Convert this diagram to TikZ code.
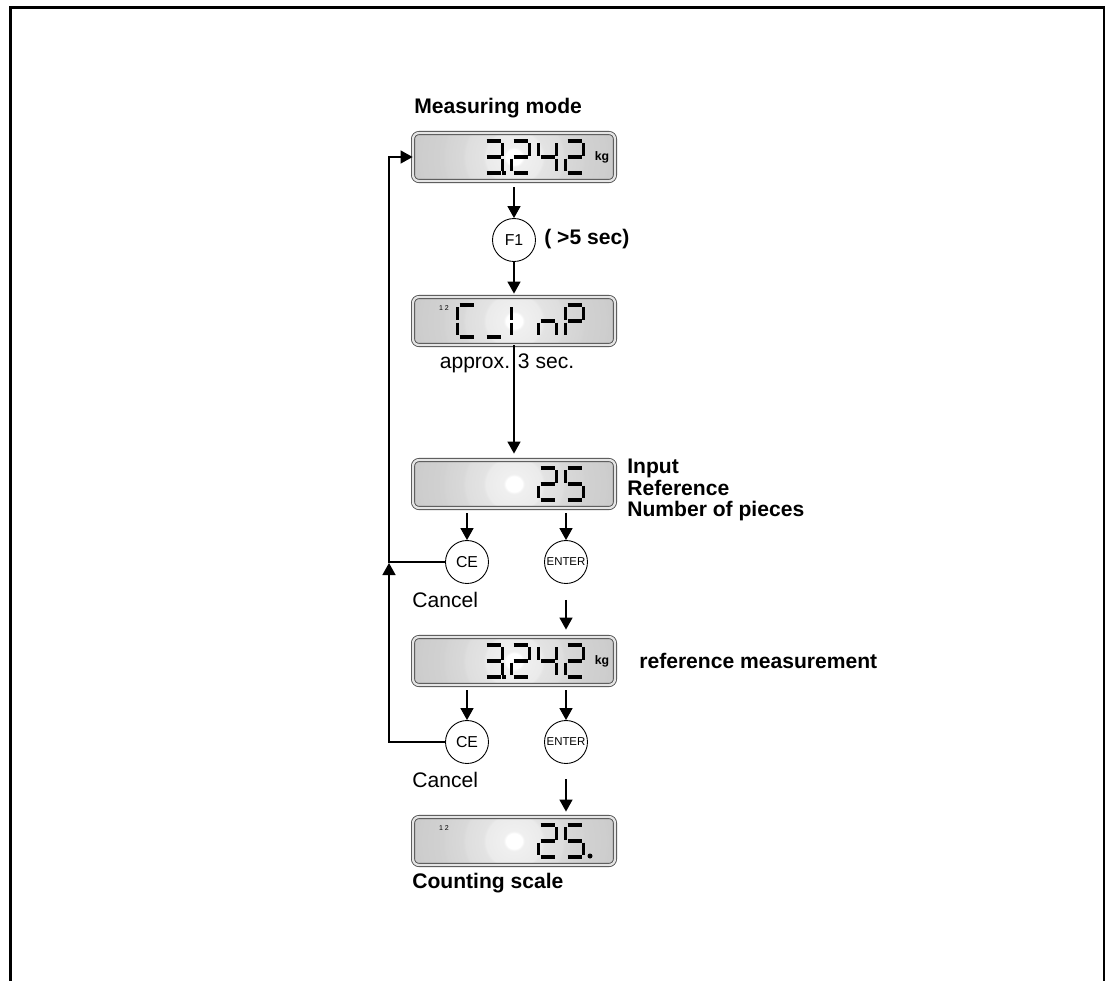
\documentclass[tikz,border=0pt]{standalone}
\usepackage{fontspec}
\setmainfont{Liberation Sans}
\usepackage{tikz}
\usetikzlibrary{arrows.meta}
\definecolor{lcdgray}{rgb}{0.8,0.8,0.8}
\definecolor{lcdrim}{rgb}{0.9,0.9,0.9}
\pgfdeclareradialshading{lcdglow}{\pgfpointorigin}{color(0bp)=(white); color(2bp)=(white); color(2.6bp)=(black!6); color(7bp)=(black!8); color(7.6bp)=(black!11); color(12bp)=(black!13); color(12.6bp)=(black!15); color(17bp)=(black!17); color(17.6bp)=(black!18); color(25bp)=(black!20); color(50bp)=(black!20)}
\tikzset{
  lcd/.style={draw=black!70, line width=0.5pt, double=lcdrim, double distance=1.3pt,
    rounded corners=0.12cm, minimum width=4.04cm, minimum height=0.96cm, inner sep=0pt,
    fill=lcdgray, path picture={\shade[shading=lcdglow] (path picture bounding box.center) circle (1.9cm);}},
  lcdseg/.style={line width=0.075cm, line cap=butt},
  key/.style={draw, circle, line width=0.5pt, minimum size=0.86cm, inner sep=0pt, font=\fontsize{9}{9}\selectfont},
  enterkey/.style={key, font=\fontsize{6.5}{6.5}\selectfont},
  flow/.style={line width=0.85pt, -{Triangle[length=0.24cm,width=0.26cm]}},
  lbl/.style={inner sep=0pt, font=\fontsize{12}{14}\selectfont},
  blbl/.style={inner sep=0pt, font=\bfseries\fontsize{12}{12.2}\selectfont}
}
\newcommand\lcdchar[3]{%
  \begin{scope}[shift={(#1,#2)}]
  \foreach \s in {#3}{%
    \ifcase\s\relax \draw[lcdseg] (2.5,0) -- (16.5,0);
    \or \draw[lcdseg] (18.5,2) -- (18.5,14.5);
    \or \draw[lcdseg] (18.5,17.5) -- (18.5,30);
    \or \draw[lcdseg] (2.5,32) -- (16.5,32);
    \or \draw[lcdseg] (0.5,17.5) -- (0.5,30);
    \or \draw[lcdseg] (0.5,2) -- (0.5,14.5);
    \or \draw[lcdseg] (2.5,16) -- (16.5,16);
    \fi}
  \end{scope}}

\begin{document}
\begin{tikzpicture}[x=0.02cm,y=-0.02cm]
\useasboundingbox (0,0) rectangle (1110,981);
\draw[line width=1.4pt] (10.5,981) -- (10.5,7.5) -- (1104,7.5) -- (1104,981);

\node[lcd] (meas) at (514,157) {};
\node[key] (f1) at (514,240) {F1};
\node[lcd] (cimp) at (514,321) {};
\node[lcd] (refin) at (514,484) {};
\node[key] (ce1) at (467,562) {CE};
\node[enterkey] (ent1) at (566,562) {ENTER};
\node[lcd] (refm) at (514,661) {};
\node[key] (ce2) at (467,742) {CE};
\node[enterkey] (ent2) at (566,742) {ENTER};
\node[lcd] (count) at (514,841) {};
\coordinate (back) at (389,562);

\lcdchar{484}{141}{0,1,2,3,6}
\lcdchar{511}{141}{0,1,6,4,3}
\lcdchar{538}{141}{5,6,1,2}
\lcdchar{565}{141}{0,1,6,4,3}
\fill (502,171) rectangle (506,175);
\node[inner sep=0pt, font=\bfseries\fontsize{7}{7}\selectfont] (kg1) at (602,157) {kg};

\lcdchar{457}{305}{0,5,4,3}
\lcdchar{484}{305}{3}
\lcdchar{511}{305}{4,5}
\lcdchar{538}{305}{4,6,2}
\lcdchar{565}{305}{0,1,5,6,4}
\node[inner sep=0pt, font=\fontsize{4}{4}\selectfont] (idx1) at (444,308) {1 2};

\lcdchar{538}{468}{0,1,6,4,3}
\lcdchar{565}{468}{0,5,6,2,3}

\lcdchar{484}{645}{0,1,2,3,6}
\lcdchar{511}{645}{0,1,6,4,3}
\lcdchar{538}{645}{5,6,1,2}
\lcdchar{565}{645}{0,1,6,4,3}
\fill (502,675) rectangle (506,679);
\node[inner sep=0pt, font=\bfseries\fontsize{7}{7}\selectfont] (kg2) at (602,661) {kg};

\lcdchar{538}{825}{0,1,6,4,3}
\lcdchar{565}{825}{0,5,6,2,3}
\fill (590,856) circle (2.5);
\node[inner sep=0pt, font=\fontsize{4}{4}\selectfont] (idx2) at (444,828) {1 2};

\node[blbl, anchor=west] (mtitle) at (414,108) {Measuring mode};
\node[blbl, anchor=west] (secs) at (544,239) {( >5 sec)};
\node[lbl] (approx) at (507,363) {approx. 3 sec.};
\node[blbl, anchor=west, align=left] (inlabel) at (627,490) {Input\\Reference\\Number of pieces};
\node[blbl, anchor=west] (reflabel) at (639,661) {reference measurement};
\node[lbl, anchor=west] (cancel1) at (412,600) {Cancel};
\node[lbl, anchor=west] (cancel2) at (412,780) {Cancel};
\node[blbl, anchor=west] (ctitle) at (412,883) {Counting scale};

\draw[flow] ([yshift=-0.12cm]meas.south) -- (f1);
\draw[flow] (f1) -- ([yshift=0.06cm]cimp.north);
\draw[flow] (cimp.south) -- ([yshift=0.12cm]refin.north);
\draw[flow] ([yshift=-0.1cm]refin.south -| ce1) -- (ce1);
\draw[flow] ([yshift=-0.1cm]refin.south -| ent1) -- (ent1);
\draw[flow] ([yshift=-0.32cm]ent1.south) -- ([yshift=0.14cm]refm.north -| ent1);
\draw[flow] ([yshift=-0.1cm]refm.south -| ce2) -- (ce2);
\draw[flow] ([yshift=-0.1cm]refm.south -| ent2) -- (ent2);
\draw[flow] ([yshift=-0.31cm]ent2.south) -- ([yshift=0.1cm]count.north -| ent2);
\draw[flow] (ce1.west) -- (back) |- (meas.west);
\draw[flow] (ce2.west) -| ([yshift=-0.02cm]back);
\end{tikzpicture}
\end{document}
